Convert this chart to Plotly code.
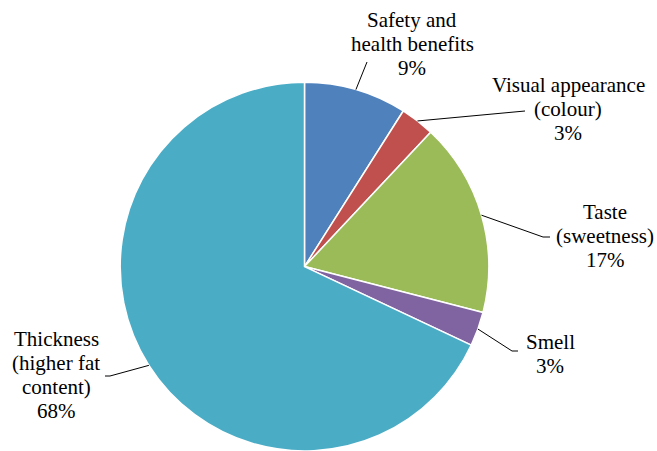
import math
import plotly.graph_objects as go

# ---- data ----
labels = ["Safety and<br>health benefits", "Visual appearance<br>(colour)",
          "Taste<br>(sweetness)", "Smell", "Thickness<br>(higher fat<br>content)"]
values = [9, 3, 17, 3, 68]
colors = ["#4F81BD", "#C0504D", "#9BBB59", "#8064A2", "#4BACC6"]

# ---- layout config (pixels) ----
W, H = 657, 451
CX, CY, R = 304.5, 266.6, 184.3
# label block centres
label_pos = [(412, 44), (568, 109), (605, 236), (550, 354), (56, 375)]
# leader line elbow and end points
leader_pts = [[(367, 62)], [(525, 111)], [(543, 237), (550, 237)],
              [(512, 351), (518, 351)], [(110, 376), (105, 376)]]
LINE_H = 24
FONT = dict(family="Times New Roman, Tinos, Liberation Serif, DejaVu Serif, Noto Serif, serif",
            size=21, color="#000000")


def px(x, y):
    return x / W, 1 - y / H


fig = go.Figure(go.Pie(
    labels=[l.replace("<br>", " ") for l in labels], values=values,
    marker=dict(colors=colors, line=dict(color="white", width=1.5)),
    sort=False, direction="clockwise", rotation=0,
    textinfo="none", hoverinfo="label+percent",
    domain=dict(x=[(CX - R) / W, (CX + R) / W],
                y=[max(0, (H - CY - R) / H), (H - CY + R) / H]),
))

total = sum(values)
annotations = []
shapes = []
cum = 0
for lab, v, (lx, ly), pts in zip(labels, values, label_pos, leader_pts):
    mid = (cum + v / 2) / total * 2 * math.pi
    cum += v
    ex = CX + R * math.sin(mid)
    ey = CY - R * math.cos(mid)
    lines = lab.split("<br>") + [f"{round(v / total * 100)}%"]
    n = len(lines)
    for i, t in enumerate(lines):
        yy = ly + (i - (n - 1) / 2) * LINE_H
        x, y = px(lx, yy)
        annotations.append(dict(text=t, x=x, y=y, xref="paper", yref="paper",
                                xanchor="center", yanchor="middle", showarrow=False,
                                font=FONT))
    path_pts = [(ex, ey)] + pts
    p = "M " + " L ".join(f"{px(a, b)[0]},{px(a, b)[1]}" for a, b in path_pts)
    shapes.append(dict(type="path", path=p, xref="paper", yref="paper",
                       line=dict(color="black", width=1)))

fig.update_layout(
    width=W, height=H, margin=dict(l=0, r=0, t=0, b=0),
    paper_bgcolor="white", plot_bgcolor="white",
    font=FONT,
    showlegend=False, annotations=annotations, shapes=shapes,
)

fig.write_html("out.html")
